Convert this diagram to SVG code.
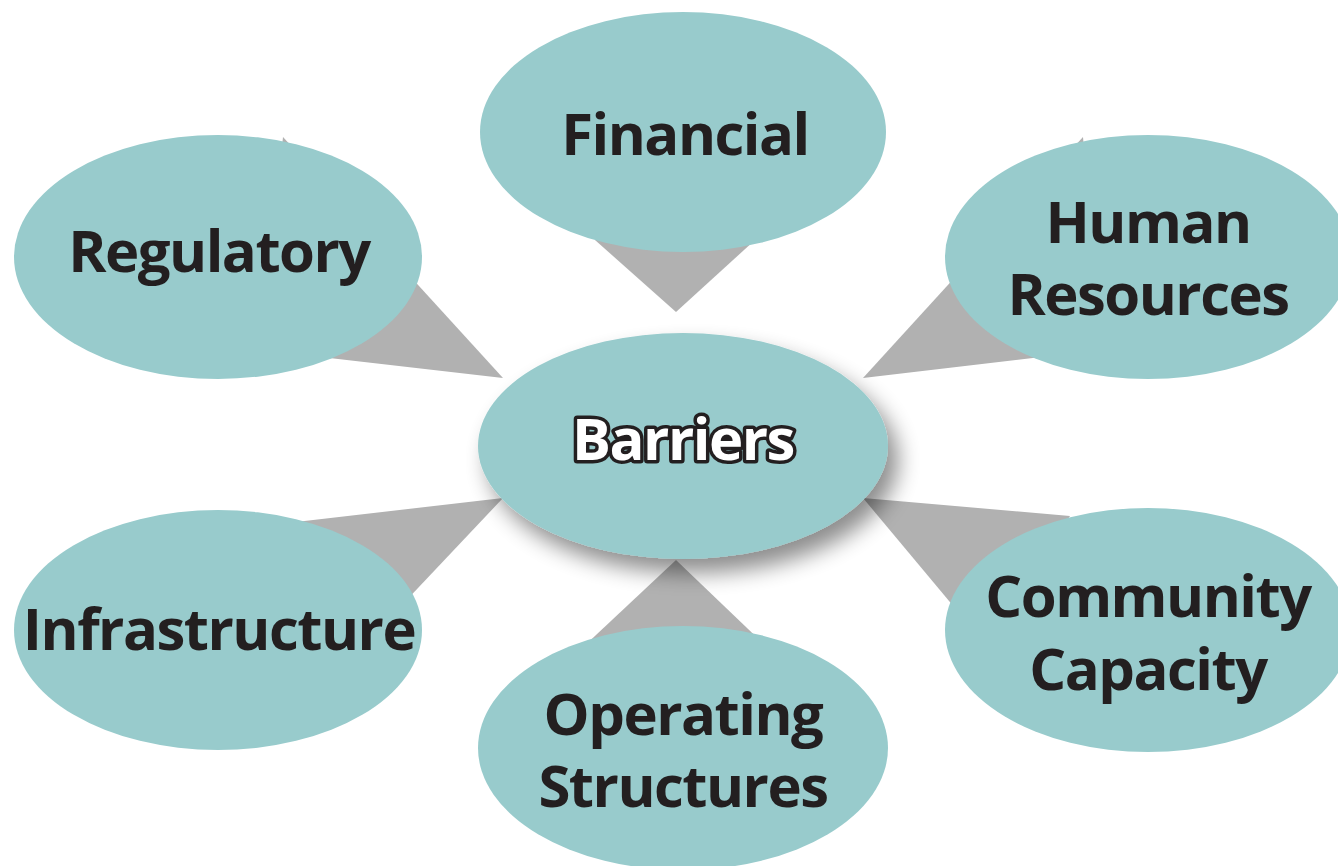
<svg xmlns="http://www.w3.org/2000/svg" width="1338" height="866" viewBox="0 0 1338 866">
<defs>
<style>
.node{fill:#98CBCC}
.conn{fill:#B1B1B1}
.lbl{font-family:"Open Sans","Liberation Sans",sans-serif;font-weight:700;font-size:58px;fill:#231F20;text-anchor:middle;letter-spacing:-1.5px}
.ctr{font-family:"Open Sans","Liberation Sans",sans-serif;font-weight:700;font-size:58px;fill:#FFFFFF;stroke:#231F20;stroke-width:7px;stroke-linejoin:round;paint-order:stroke;text-anchor:middle;letter-spacing:-1.5px}
</style>
<filter id="shadow" x="-20%" y="-20%" width="150%" height="160%">
<feGaussianBlur in="SourceAlpha" stdDeviation="11"/>
<feOffset dx="10" dy="14" result="b"/>
<feComponentTransfer><feFuncA type="linear" slope="0.45"/></feComponentTransfer>
<feMerge><feMergeNode/><feMergeNode in="SourceGraphic"/></feMerge>
</filter>
</defs>
<rect width="1338" height="866" fill="#FFFFFF"/>
<g id="connectors">
<polygon class="conn" points="676,312 595,240 755,240"/>
<polygon class="conn" points="503,378 283,137 260,350"/>
<polygon class="conn" points="863,378 1083,137 1100,350"/>
<polygon class="conn" points="503,498 270,525 350,660"/>
<polygon class="conn" points="863,498 1070,516 990,650"/>
<polygon class="conn" points="676,560 580,650 770,650"/>
</g>
<g id="financial"><ellipse class="node" cx="683" cy="132" rx="203" ry="120"/><text class="lbl" x="685" y="155">Financial</text></g>
<g id="regulatory"><ellipse class="node" cx="218" cy="257" rx="204" ry="122"/><text class="lbl" x="219" y="272">Regulatory</text></g>
<g id="human-resources"><ellipse class="node" cx="1148" cy="257" rx="203" ry="122"/><text class="lbl" x="1148" y="243">Human</text><text class="lbl" x="1148" y="315">Resources</text></g>
<g id="infrastructure"><ellipse class="node" cx="218" cy="630" rx="204" ry="120"/><text class="lbl" x="219" y="650">Infrastructure</text></g>
<g id="community-capacity"><ellipse class="node" cx="1148" cy="630" rx="203" ry="122"/><text class="lbl" x="1148" y="617">Community</text><text class="lbl" x="1148" y="690">Capacity</text></g>
<g id="operating-structures"><ellipse class="node" cx="683" cy="748" rx="205" ry="122"/><text class="lbl" x="683" y="735">Operating</text><text class="lbl" x="683" y="807">Structures</text></g>
<g id="barriers"><ellipse class="node" cx="683" cy="446" rx="205" ry="113" filter="url(#shadow)"/><text class="ctr" x="683" y="460">Barriers</text></g>
</svg>
